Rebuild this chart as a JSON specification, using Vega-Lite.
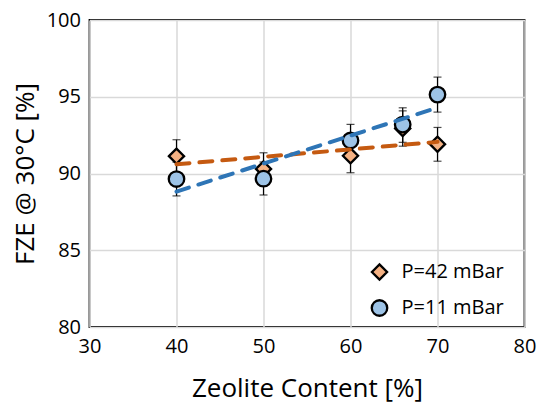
{
  "$schema": "https://vega.github.io/schema/vega-lite/v6.json",
  "width": 435,
  "height": 307,
  "autosize": {"type": "none"},
  "padding": {"left": 89.5, "top": 20, "right": 12.5, "bottom": 77},
  "background": "white",
  "config": {
    "font": "Open Sans",
    "view": {"stroke": "black", "strokeWidth": 1.8},
    "axis": {
      "grid": true,
      "gridColor": "#d9d9d9",
      "gridWidth": 1.5,
      "domain": false,
      "ticks": false,
      "labelFlush": false,
      "labelFont": "Open Sans",
      "labelFontSize": 20,
      "labelColor": "black",
      "titleFont": "Open Sans",
      "titleFontSize": 26,
      "titleFontWeight": "normal",
      "titleColor": "black"
    }
  },
  "datasets": {
    "pts": [
      {"z": 40, "fze": 91.13, "lo": 90.05, "hi": 92.2, "series": "P=42 mBar"},
      {"z": 50, "fze": 90.3, "lo": 89.2, "hi": 91.35, "series": "P=42 mBar"},
      {"z": 60, "fze": 91.16, "lo": 90.05, "hi": 92.25, "series": "P=42 mBar"},
      {"z": 66, "fze": 92.93, "lo": 91.78, "hi": 94.08, "series": "P=42 mBar"},
      {"z": 70, "fze": 91.91, "lo": 90.8, "hi": 93.0, "series": "P=42 mBar"},
      {"z": 40, "fze": 89.64, "lo": 88.54, "hi": 90.74, "series": "P=11 mBar"},
      {"z": 50, "fze": 89.66, "lo": 88.6, "hi": 90.75, "series": "P=11 mBar"},
      {"z": 60, "fze": 92.15, "lo": 91.1, "hi": 93.2, "series": "P=11 mBar"},
      {"z": 66, "fze": 93.19, "lo": 92.03, "hi": 94.28, "series": "P=11 mBar"},
      {"z": 70, "fze": 95.14, "lo": 94.0, "hi": 96.28, "series": "P=11 mBar"}
    ],
    "trend": [
      {"z": 40, "fze": 90.6, "fit": "fit 42"},
      {"z": 70, "fze": 92.06, "fit": "fit 42"},
      {"z": 40, "fze": 88.82, "fit": "fit 11"},
      {"z": 70, "fze": 94.29, "fit": "fit 11"}
    ]
  },
  "layer": [
    {
      "data": {"name": "pts"},
      "mark": {"type": "rule", "color": "black", "strokeWidth": 1.2},
      "encoding": {
        "x": {"field": "z", "type": "quantitative", "scale": {"domain": [30, 80]},
              "axis": {"values": [30, 40, 50, 60, 70, 80], "title": "Zeolite Content [%]", "labelPadding": 9, "titlePadding": 19}},
        "y": {"field": "lo", "type": "quantitative", "scale": {"domain": [80, 100]},
              "axis": {"values": [80, 85, 90, 95, 100], "title": "FZE @ 30°C [%]", "labelPadding": 9, "titlePadding": 8}},
        "y2": {"field": "hi"}
      }
    },
    {
      "data": {"name": "pts"},
      "mark": {"type": "tick", "color": "black", "thickness": 1.2, "size": 8, "orient": "horizontal"},
      "encoding": {
        "x": {"field": "z", "type": "quantitative"},
        "y": {"field": "lo", "type": "quantitative"}
      }
    },
    {
      "data": {"name": "pts"},
      "mark": {"type": "tick", "color": "black", "thickness": 1.2, "size": 8, "orient": "horizontal"},
      "encoding": {
        "x": {"field": "z", "type": "quantitative"},
        "y": {"field": "hi", "type": "quantitative"}
      }
    },
    {
      "data": {"name": "pts"},
      "mark": {"type": "point", "filled": true, "stroke": "black", "strokeWidth": 2.3, "opacity": 1},
      "encoding": {
        "x": {"field": "z", "type": "quantitative"},
        "y": {"field": "fze", "type": "quantitative"},
        "order": {"field": "series", "sort": "descending"},
        "fill": {"field": "series", "type": "nominal",
                 "scale": {"domain": ["P=42 mBar", "P=11 mBar"], "range": ["#F4B183", "#9DC3E6"]},
                 "legend": {"title": null, "orient": "none", "legendX": 280, "legendY": 242, "labelFontSize": 20, "labelFont": "Open Sans", "labelColor": "black", "symbolStrokeWidth": 2.3, "symbolStrokeColor": "black", "rowPadding": 10, "labelOffset": 12}},
        "shape": {"field": "series", "type": "nominal",
                  "scale": {"domain": ["P=42 mBar", "P=11 mBar"], "range": ["diamond", "circle"]}},
        "size": {"field": "series", "type": "nominal",
                 "scale": {"domain": ["P=42 mBar", "P=11 mBar"], "range": [230, 240]}}
      }
    },
    {
      "data": {"name": "trend"},
      "mark": {"type": "line", "strokeWidth": 4, "strokeDash": [13, 10], "strokeCap": "round"},
      "encoding": {
        "x": {"field": "z", "type": "quantitative"},
        "y": {"field": "fze", "type": "quantitative"},
        "detail": {"field": "fit"},
        "color": {"field": "fit", "type": "nominal",
                  "scale": {"domain": ["fit 42", "fit 11"], "range": ["#C55A11", "#2E75B6"]},
                  "legend": null}
      }
    }
  ]
}
